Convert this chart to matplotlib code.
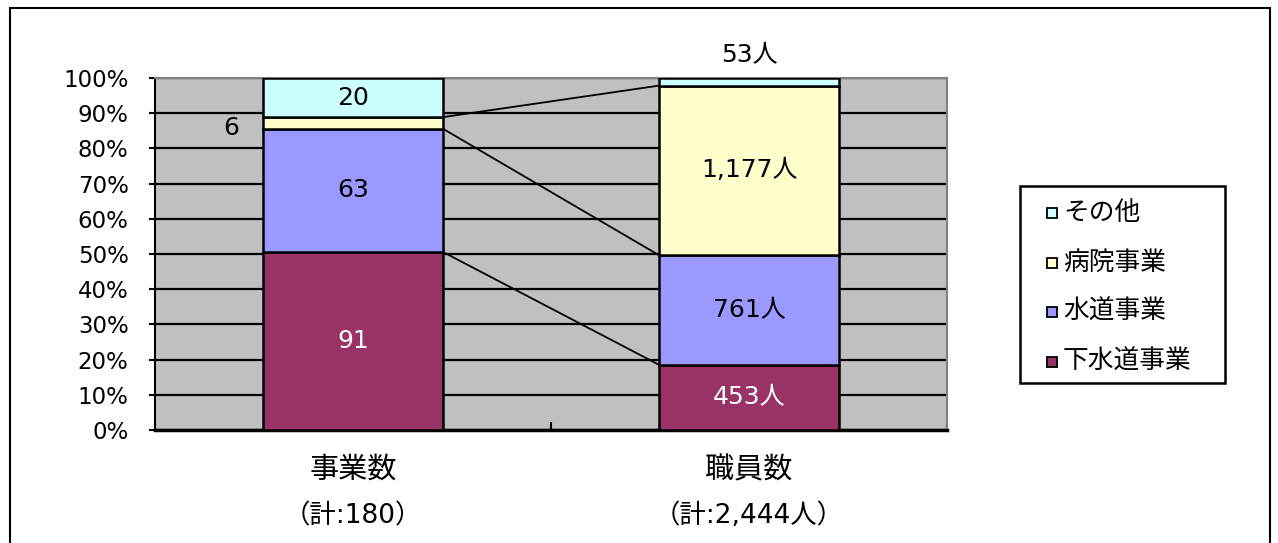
import matplotlib
matplotlib.use("Agg")
import matplotlib.pyplot as plt
from matplotlib.patches import Rectangle
import matplotlib.transforms as mtransforms
import numpy as np

plt.rcParams['font.family'] = ['DejaVu Sans', 'Noto Sans CJK JP']
CJK = ['Noto Sans CJK JP', 'DejaVu Sans']

categories = ['事業数', '職員数']
totals_text = ['（計:180）', '（計:2,444人）']
series_names = ['下水道事業', '水道事業', '病院事業', 'その他']
values_jigyo = [91, 63, 6, 20]
values_shokuin = [453, 761, 1177, 53]
labels_jigyo = ['91', '63', '6', '20']
labels_shokuin = ['453人', '761人', '1,177人', '53人']
colors = ['#993366', '#9999FF', '#FFFFCC', '#CCFFFF']
label_colors = ['white', 'black', 'black', 'black']

data = np.array([values_jigyo, values_shokuin], dtype=float)
pct = data / data.sum(axis=1, keepdims=True) * 100
cum = np.cumsum(pct, axis=1)
bottoms = cum - pct

W, H = 1278, 543
fig = plt.figure(figsize=(W/100, H/100), dpi=100)
# outer frame
fig.patches.append(Rectangle((10/W, -0.05), 1260/W, 1.05 - 8/H, transform=fig.transFigure,
                             fill=False, edgecolor='black', linewidth=1.5))

ax = fig.add_axes([155/W, 1 - 430/H, 792/W, 352/H])
ax.set_facecolor('#C0C0C0')
ax.set_xlim(-0.5, 1.5)
ax.set_ylim(0, 100)

bw = 0.455
x = np.arange(len(categories))
for j, name in enumerate(series_names):
    ax.bar(x, pct[:, j], bottom=bottoms[:, j], width=bw, color=colors[j],
           edgecolor='black', linewidth=1.8, label=name, zorder=3)

# series lines
for j in range(len(series_names) - 1):
    ax.plot([x[0] + bw/2, x[1] - bw/2], [cum[0, j], cum[1, j]], color='black', lw=1.3, zorder=4)

# grid
ax.set_yticks(np.arange(0, 101, 10))
ax.set_yticklabels([f'{v}%' for v in range(0, 101, 10)], fontsize=16.5)
ax.yaxis.grid(True, color='black', linewidth=1.6, zorder=1)
ax.set_axisbelow(True)
ax.tick_params(axis='y', length=4, width=1.5, pad=15)

ax.set_xticks(x)
ax.set_xticklabels(['', ''])
ax.tick_params(axis='x', length=0)
ax.set_xticks([-0.5, 0.5, 1.5], minor=True)
ax.tick_params(axis='x', which='minor', direction='in', length=6, width=1.5)

trans = mtransforms.blended_transform_factory(ax.transData, ax.transAxes)
for i, (c, t) in enumerate(zip(categories, totals_text)):
    ax.text(x[i], -40/352, c, transform=trans, ha='center', va='center', fontsize=21, family=CJK)
    ax.text(x[i], -86/352, t, transform=trans, ha='center', va='center', fontsize=19)

for s in ['top', 'right']:
    ax.spines[s].set_color('#808080')
    ax.spines[s].set_linewidth(1.5)
ax.spines['left'].set_linewidth(1.5)
ax.spines['bottom'].set_linewidth(2.5)

# data labels
fs = 18
for j in range(len(series_names)):
    yc = bottoms[0, j] + pct[0, j] / 2
    if labels_jigyo[j] == '6':
        ax.text(x[0] - bw/2 - 0.08, yc - 1.5, labels_jigyo[j], ha='center', va='center', fontsize=fs, color='black', zorder=5)
    else:
        ax.text(x[0], yc, labels_jigyo[j], ha='center', va='center', fontsize=fs, color=label_colors[j], zorder=5)
    yc2 = bottoms[1, j] + pct[1, j] / 2
    if labels_shokuin[j] == '53人':
        ax.text(x[1], 106.5, labels_shokuin[j], ha='center', va='center', fontsize=fs, color='black', zorder=5, clip_on=False)
    else:
        ax.text(x[1], yc2, labels_shokuin[j], ha='center', va='center', fontsize=fs, color=label_colors[j], zorder=5)

# legend (manual, matching the boxed Excel-style legend)
lx0, ly0, lx1, ly1 = 1020, 186, 1225, 383
fig.patches.append(Rectangle((lx0/W, 1 - ly1/H), (lx1-lx0)/W, (ly1-ly0)/H, transform=fig.transFigure,
                             fill=True, facecolor='white', edgecolor='black', linewidth=1.8, zorder=5))
first_y, step = 213, 49.5
msz = 10
for k, j in enumerate(range(len(series_names) - 1, -1, -1)):
    yy = first_y + k * step
    fig.patches.append(Rectangle((1047/W, 1 - (yy + msz/2)/H), msz/W, msz/H, transform=fig.transFigure,
                                 facecolor=colors[j], edgecolor='black', linewidth=1.3, zorder=6))
    fig.text(1063/W, 1 - yy/H, series_names[j], ha='left', va='center', fontsize=18.5, family=CJK, zorder=7)

fig.savefig('out.png', dpi=100)
